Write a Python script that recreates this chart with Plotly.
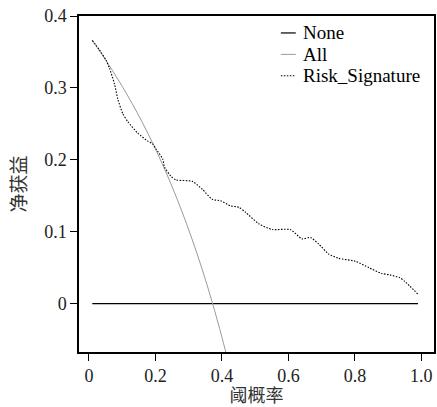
import plotly.graph_objects as go

# Threshold probabilities and net benefit values
none_x = [0.01, 0.99]
none_y = [0.0, 0.0]

all_x = [0.01, 0.04, 0.07, 0.10, 0.13, 0.16, 0.19, 0.22, 0.25, 0.28, 0.31, 0.34, 0.37, 0.40, 0.42]
all_y = [0.3657, 0.3458, 0.3247, 0.3022, 0.2782, 0.2524, 0.2247, 0.1949, 0.1627, 0.1278,
         0.0899, 0.0485, 0.0032, -0.0467, -0.0828]

risk_x = [0.01, 0.03, 0.052, 0.062, 0.077, 0.087, 0.102, 0.117, 0.147, 0.177, 0.192, 0.202,
          0.222, 0.227, 0.247, 0.262, 0.311, 0.341, 0.371, 0.396, 0.426, 0.451, 0.471, 0.511,
          0.551, 0.606, 0.641, 0.666, 0.691, 0.721, 0.751, 0.801, 0.842, 0.880, 0.905, 0.935,
          0.950, 0.990]
risk_y = [0.366, 0.354, 0.338, 0.327, 0.305, 0.284, 0.264, 0.253, 0.237, 0.226, 0.222, 0.215,
          0.201, 0.190, 0.177, 0.172, 0.170, 0.159, 0.145, 0.143, 0.136, 0.134, 0.127, 0.111,
          0.103, 0.103, 0.090, 0.092, 0.083, 0.069, 0.063, 0.059, 0.050, 0.042, 0.040, 0.036,
          0.031, 0.013]

x_ticks = [0, 0.2, 0.4, 0.6, 0.8, 1.0]
x_labels = ["0", "0.2", "0.4", "0.6", "0.8", "1.0"]
y_ticks = [0, 0.1, 0.2, 0.3, 0.4]
y_labels = ["0", "0.1", "0.2", "0.3", "0.4"]

legend_names = ["None", "All", "Risk_Signature"]

SERIF = "Liberation Serif"
CJK = "Noto Sans CJK SC"

W, H = 437, 407
ML, MR, MT, MB = 79, 1, 16, 54
PW, PH = W - ML - MR, H - MT - MB

fig = go.Figure()
fig.add_trace(go.Scatter(x=none_x, y=none_y, mode="lines",
                         line=dict(color="black", width=1.2), showlegend=False))
fig.add_trace(go.Scatter(x=all_x, y=all_y, mode="lines",
                         line=dict(color="#9a9a9a", width=1.0, shape="spline"), showlegend=False))
fig.add_trace(go.Scatter(x=risk_x, y=risk_y, mode="lines",
                         line=dict(color="black", width=1.1, dash="1.5px,1.5px", shape="spline",
                                   smoothing=0.6),
                         showlegend=False))

def px2paper(px, py):
    return (px - ML) / PW, (H - MB - py) / PH

styles = [dict(color="black", width=1.2),
          dict(color="#9a9a9a", width=1.0),
          dict(color="black", width=1.1, dash="1.5px,1.5px")]
shapes = []
annotations = []
for i, (name, st) in enumerate(zip(legend_names, styles)):
    py = 33 + i * 21.5
    x0, y0 = px2paper(282, py)
    x1, _ = px2paper(297, py)
    shapes.append(dict(type="line", xref="paper", yref="paper", x0=x0, x1=x1, y0=y0, y1=y0,
                       line=st))
    tx, _ = px2paper(302, py)
    annotations.append(dict(xref="paper", yref="paper", x=tx, y=y0, text=name, showarrow=False,
                            xanchor="left", yanchor="middle",
                            font=dict(family=SERIF, size=19, color="black")))

fig.update_layout(
    width=W, height=H,
    margin=dict(l=ML, r=MR, t=MT, b=MB),
    paper_bgcolor="white", plot_bgcolor="white",
    shapes=shapes, annotations=annotations,
    xaxis=dict(range=[-0.03, 1.038], tickvals=x_ticks, ticktext=x_labels,
               ticks="outside", ticklen=7, tickwidth=1.3, tickcolor="black",
               showline=True, linecolor="black", linewidth=1.5, mirror=True,
               showgrid=False, zeroline=False,
               tickfont=dict(family=SERIF, size=18, color="#222"),
               title=dict(text="阈概率", font=dict(family=CJK, size=18, color="#333"), standoff=7)),
    yaxis=dict(range=[-0.0673, 0.4], tickvals=y_ticks, ticktext=y_labels,
               ticks="outside", ticklen=7, tickwidth=1.3, tickcolor="black",
               showline=True, linecolor="black", linewidth=1.5, mirror=True,
               showgrid=False, zeroline=False,
               tickfont=dict(family=SERIF, size=18, color="#222"),
               title=dict(text="净获益", font=dict(family=CJK, size=19, color="#333"), standoff=13)),
)

fig.write_html("out.html", config={"displayModeBar": False},
               post_script="document.body.style.margin='0';")
